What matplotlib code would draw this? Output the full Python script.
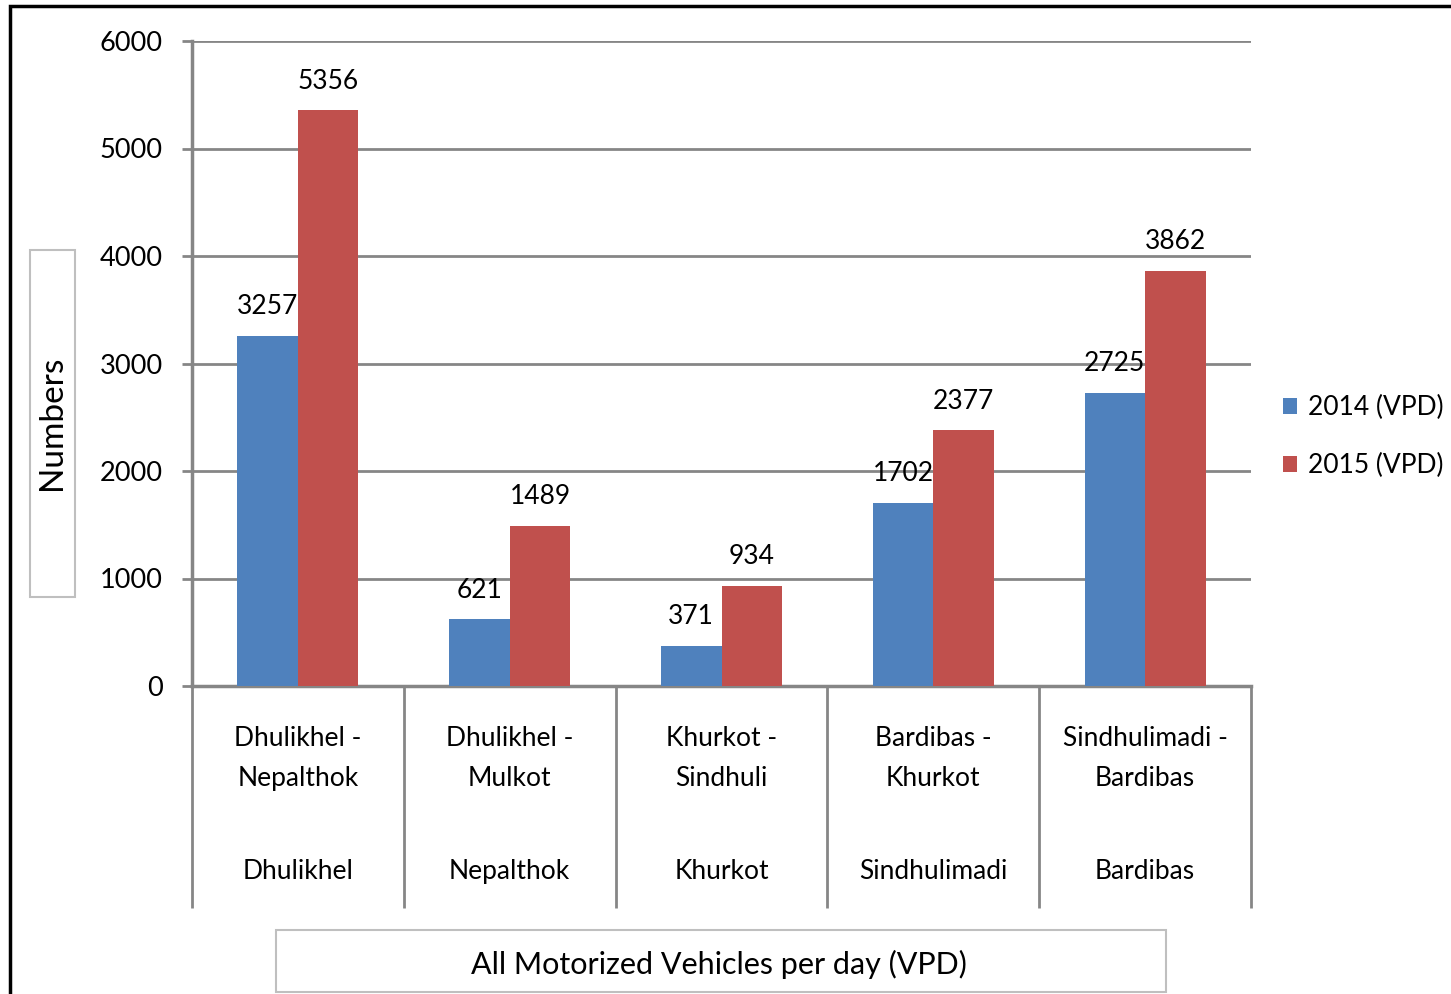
import numpy as np
import matplotlib.pyplot as plt
from matplotlib.patches import Rectangle

# data
routes = ["Dhulikhel -\nNepalthok", "Dhulikhel -\nMulkot", "Khurkot -\nSindhuli",
          "Bardibas -\nKhurkot", "Sindhulimadi -\nBardibas"]
stations = ["Dhulikhel", "Nepalthok", "Khurkot", "Sindhulimadi", "Bardibas"]
vpd_2014 = [3257, 621, 371, 1702, 2725]
vpd_2015 = [5356, 1489, 934, 2377, 3862]
series_names = ["2014 (VPD)", "2015 (VPD)"]
yticks = [0, 1000, 2000, 3000, 4000, 5000, 6000]

plt.rcParams['font.family'] = ['Lato', 'DejaVu Sans']
W, H = 1451, 994
fig = plt.figure(figsize=(W / 100, H / 100), dpi=100)
ax = fig.add_axes([192 / W, 1 - 686 / H, (1251 - 192) / W, (686 - 41) / H])

blue = "#4F81BD"
red = "#C0504D"
grid_c = "#868686"
fs = 19

x = np.arange(len(routes))
bw = 0.286
b1 = ax.bar(x - bw / 2, vpd_2014, bw, color=blue, label=series_names[0], zorder=3)
b2 = ax.bar(x + bw / 2, vpd_2015, bw, color=red, label=series_names[1], zorder=3)
for bars, vals in ((b1, vpd_2014), (b2, vpd_2015)):
    for r, v in zip(bars, vals):
        ax.annotate(str(v), (r.get_x() + r.get_width() / 2, v), xytext=(0, 12),
                    textcoords="offset points", ha="center", va="bottom", fontsize=fs)

ax.set_xlim(-0.5, len(routes) - 0.5)
ax.set_ylim(0, 6000)
ax.set_yticks(yticks)
ax.set_yticklabels([str(t) for t in yticks], fontsize=fs + 0.5)
ax.yaxis.grid(True, color=grid_c, linewidth=2, zorder=0)
ax.tick_params(axis="y", length=7, width=2, color=grid_c, pad=14)

# category separators as long minor ticks
ax.set_xticks([])
ax.set_xticks(np.arange(len(routes) + 1) - 0.5, minor=True)
ax.tick_params(axis="x", which="minor", length=160, width=2, color=grid_c)
for s in ["top", "right"]:
    ax.spines[s].set_visible(False)
for s in ["left", "bottom"]:
    ax.spines[s].set_color(grid_c)
    ax.spines[s].set_linewidth(2.5)

trans = ax.get_xaxis_transform()
for i in range(len(routes)):
    ax.text(i, -0.113, routes[i], transform=trans, ha="center", va="center",
            fontsize=fs, linespacing=1.75)
    ax.text(i, -0.288, stations[i], transform=trans, ha="center", va="center",
            fontsize=fs)

ax.legend(loc="center left", bbox_to_anchor=(1.02, 0.387), frameon=False,
          fontsize=fs, handlelength=0.55, handleheight=0.55, handletextpad=0.4,
          labelspacing=1.25, borderaxespad=0)

# figure border and title boxes
fig.patches.append(Rectangle((10 / W, -0.1), 1.2, 1 - 6 / H + 0.1, transform=fig.transFigure,
                             fill=False, edgecolor="black", linewidth=2.5))
fig.patches.append(Rectangle((30 / W, 1 - 597 / H), 45 / W, 347 / H, transform=fig.transFigure,
                             fill=False, edgecolor="#BFBFBF", linewidth=1.5))
fig.patches.append(Rectangle((276 / W, 1 - 992 / H), 890 / W, 62 / H, transform=fig.transFigure,
                             fill=False, edgecolor="#BFBFBF", linewidth=1.5))
fig.text(52 / W, 1 - 423 / H, "Numbers", rotation=90, ha="center", va="center", fontsize=24)
fig.text(719 / W, 1 - 964 / H, "All Motorized Vehicles per day (VPD)", ha="center",
         va="center", fontsize=22)

fig.savefig("out.png", dpi=100)
